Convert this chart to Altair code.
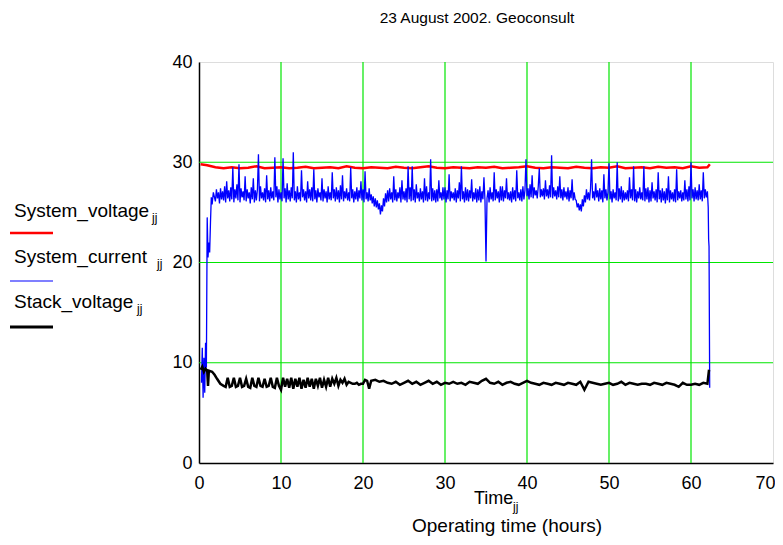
import altair as alt
import pandas as pd

FONT = "Liberation Sans"

# ---------------- data ----------------
# System voltage (red)
volt_time = [0.2, 0.6, 1.0, 1.5, 2.0, 2.5,
             3, 4, 5, 6, 7, 8, 9, 10, 11, 12,
             13, 14, 15, 16, 17, 18, 19, 20, 21, 22,
             23, 24, 25, 26, 27, 28, 29, 30, 31, 32,
             33, 34, 35, 36, 37, 38, 39, 40, 41, 42,
             43, 44, 45, 46, 47, 48, 49, 50, 51, 52,
             53, 54, 55, 56, 57, 58, 59, 60, 61, 62, 62.3]
volt_vals = [29.8, 29.75, 29.7, 29.6, 29.5, 29.45,
             29.4, 29.5, 29.4, 29.45, 29.6, 29.4, 29.45, 29.5, 29.4, 29.45,
             29.55, 29.4, 29.45, 29.5, 29.4, 29.6, 29.45, 29.4, 29.5, 29.45,
             29.4, 29.55, 29.45, 29.4, 29.5, 29.6, 29.45, 29.4, 29.5, 29.45,
             29.4, 29.5, 29.45, 29.55, 29.4, 29.45, 29.5, 29.6, 29.45, 29.4,
             29.5, 29.45, 29.4, 29.55, 29.45, 29.4, 29.5, 29.45, 29.6, 29.4,
             29.45, 29.5, 29.4, 29.55, 29.45, 29.5, 29.4, 29.6, 29.45, 29.5, 29.8]

# System current (blue): start-up, hourly rows of 1/8-hour readings, shut-down
cur_start_time = [0.3, 0.4, 0.5, 0.6, 0.7, 0.8, 0.9, 1.0, 1.1, 1.2, 1.3, 1.4, 1.5, 1.6, 1.75]
cur_start_vals = [8.0, 11.5, 6.5, 10.5, 7.0, 12.0, 9.5, 24.5, 20.5, 22.0, 21.0, 24.0, 26.5, 25.8, 27.0]
cur_hours = list(range(2, 62))
cur_rows = [
    [26.1, 27.3, 26.4, 27.0, 25.9, 27.4, 26.3, 27.1],
    [26.2, 27.6, 26.0, 28.1, 26.4, 27.2, 26.1, 27.5],
    [26.3, 29.5, 26.0, 27.3, 26.4, 27.8, 26.2, 29.8],
    [26.0, 27.4, 26.5, 27.1, 26.2, 28.6, 26.1, 27.3],
    [26.4, 27.0, 25.9, 27.5, 26.3, 28.4, 26.0, 27.2],
    [26.2, 27.3, 30.8, 26.1, 27.6, 26.4, 27.0, 26.2],
    [27.4, 26.0, 28.7, 26.3, 27.2, 26.1, 27.5, 26.4],
    [27.1, 26.2, 30.5, 26.5, 27.6, 26.0, 27.3, 26.3],
    [27.0, 26.1, 30.4, 26.4, 27.4, 26.0, 27.9, 26.3],
    [27.2, 26.1, 27.5, 26.4, 31.0, 26.2, 27.1, 26.0],
    [27.6, 26.3, 27.0, 26.1, 29.2, 26.5, 27.3, 26.2],
    [27.1, 26.0, 28.1, 26.4, 27.3, 26.2, 27.5, 26.1],
    [29.3, 26.3, 27.2, 26.0, 27.4, 26.5, 27.0, 26.2],
    [28.4, 26.1, 27.3, 26.4, 27.1, 26.0, 27.6, 26.3],
    [27.0, 26.2, 29.0, 26.4, 27.3, 26.1, 27.5, 26.3],
    [27.2, 26.0, 27.7, 26.3, 28.7, 26.1, 27.1, 26.4],
    [27.4, 26.2, 27.0, 26.1, 29.5, 26.4, 27.3, 26.0],
    [27.1, 26.3, 27.5, 26.1, 27.2, 26.4, 28.1, 26.2],
    [27.3, 26.0, 29.1, 26.3, 27.0, 26.1, 27.4, 26.2],
    [26.8, 25.9, 26.6, 25.6, 26.4, 25.5, 26.2, 25.3],
    [25.9, 24.8, 25.7, 25.1, 26.4, 25.6, 26.9, 26.0],
    [27.2, 26.1, 27.4, 26.3, 27.0, 26.0, 28.6, 26.2],
    [27.3, 26.1, 27.0, 26.4, 27.5, 26.0, 28.2, 26.3],
    [27.1, 26.2, 27.4, 26.0, 29.6, 26.3, 27.5, 26.1],
    [29.6, 26.2, 27.3, 26.0, 27.8, 26.4, 27.0, 26.1],
    [27.4, 26.3, 27.1, 26.0, 28.4, 26.2, 27.6, 26.1],
    [27.0, 26.3, 30.3, 26.1, 27.4, 26.2, 27.2, 26.0],
    [27.3, 26.1, 28.2, 26.4, 27.0, 26.2, 27.5, 26.3],
    [27.5, 26.0, 27.2, 26.3, 28.8, 26.1, 27.1, 26.4],
    [27.0, 26.2, 27.4, 26.0, 27.2, 26.4, 28.0, 26.1],
    [29.6, 26.3, 27.1, 26.0, 27.5, 26.2, 27.3, 26.1],
    [27.2, 26.4, 28.3, 26.1, 27.0, 26.3, 27.4, 26.0],
    [27.3, 26.2, 27.6, 26.0, 27.1, 26.3, 28.5, 26.2],
    [20.1, 26.4, 27.2, 26.0, 27.5, 26.3, 27.0, 26.1],
    [29.0, 26.2, 27.3, 26.4, 27.1, 26.0, 27.6, 26.2],
    [27.6, 26.1, 27.2, 26.4, 28.4, 26.3, 27.0, 26.2],
    [27.1, 26.0, 27.5, 26.3, 27.2, 26.1, 29.2, 26.4],
    [27.0, 26.2, 27.3, 26.1, 27.6, 26.3, 27.2, 30.3],
    [26.6, 27.4, 26.3, 27.8, 26.5, 28.7, 26.4, 27.5],
    [26.7, 27.2, 26.4, 27.6, 29.4, 26.5, 27.3, 26.6],
    [27.4, 26.3, 28.2, 26.6, 27.3, 26.4, 27.7, 26.5],
    [30.7, 26.4, 27.5, 26.6, 27.2, 26.3, 27.6, 26.5],
    [28.6, 26.4, 27.3, 26.2, 27.5, 26.5, 27.1, 26.3],
    [27.5, 26.1, 27.2, 26.4, 28.3, 26.2, 27.0, 26.3],
    [26.2, 25.5, 25.9, 25.2, 25.8, 25.1, 26.3, 25.6],
    [26.7, 26.0, 27.3, 26.3, 27.0, 26.2, 27.4, 30.3],
    [26.4, 27.1, 26.2, 27.9, 26.5, 27.2, 26.1, 27.4],
    [26.3, 27.2, 26.0, 28.8, 26.4, 27.3, 26.2, 27.0],
    [29.9, 26.3, 27.1, 26.0, 27.3, 26.4, 27.0, 26.2],
    [30.0, 26.1, 27.4, 26.3, 27.6, 26.0, 27.2, 26.2],
    [27.0, 26.3, 27.2, 26.1, 28.5, 26.4, 27.3, 26.2],
    [29.6, 26.1, 27.3, 26.0, 27.1, 26.4, 27.5, 26.3],
    [27.0, 26.2, 29.6, 26.1, 27.4, 26.3, 27.5, 26.0],
    [27.2, 26.1, 28.0, 26.4, 27.1, 26.2, 27.3, 26.0],
    [29.0, 26.3, 27.2, 26.0, 27.4, 26.2, 27.1, 25.9],
    [27.4, 26.2, 28.6, 26.0, 27.2, 26.3, 27.0, 26.1],
    [27.3, 26.0, 29.3, 26.2, 27.1, 26.4, 27.2, 26.1],
    [27.0, 26.2, 28.2, 26.3, 27.3, 26.1, 27.6, 26.2],
    [30.0, 26.4, 27.3, 26.1, 27.5, 26.3, 27.2, 26.2],
    [27.8, 26.3, 27.2, 26.1, 29.0, 26.4, 27.3, 26.5],
]
cur_end_time = [62.0, 62.1, 62.15, 62.2, 62.28]
cur_end_vals = [27.1, 25.5, 22.3, 21.6, 7.5]

# Stack voltage (black)
stack_start_time = [0.2, 0.4, 0.6, 0.8, 1.0, 1.1, 1.2, 1.6, 1.9, 2.2, 2.6]
stack_start_vals = [9.3, 9.6, 9.1, 9.4, 9.2, 7.7, 9.2, 9.1, 8.8, 8.4, 7.9]
stack_q_hours = list(range(3, 21))
stack_quarters = [
    [7.7, 7.6, 8.5, 7.6], [7.7, 8.5, 7.6, 7.7], [8.5, 7.6, 7.7, 8.4],
    [7.6, 7.5, 8.5, 7.7], [7.6, 8.5, 7.7, 7.6], [8.4, 7.6, 7.7, 8.5],
    [7.6, 7.5, 8.5, 7.7], [7.3, 8.5, 7.6, 8.4], [7.5, 8.5, 7.4, 8.4],
    [7.6, 8.5, 7.4, 8.3], [7.5, 8.5, 7.6, 8.4], [7.4, 8.4, 7.7, 8.5],
    [7.5, 8.3, 7.6, 8.5], [7.6, 8.4, 7.9, 8.5], [7.7, 8.3, 8.0, 8.4],
    [7.8, 8.1, 8.0, 7.9], [7.9, 8.0, 7.8, 7.9], [7.9, 8.3, 8.2, 7.4],
]
stack_h_hours = list(range(21, 62))
stack_halves = [
    [8.2, 8.3], [8.1, 8.2], [8.0, 7.9], [8.1, 7.8], [8.0, 8.2], [7.9, 8.1],
    [7.8, 8.0], [8.2, 7.9], [8.1, 7.8], [8.0, 7.9], [8.1, 7.9], [8.0, 7.8],
    [8.1, 8.0], [7.9, 8.2], [8.4, 8.0], [7.9, 8.1], [7.8, 8.0], [8.1, 7.9],
    [7.8, 8.0], [8.2, 8.0], [7.9, 7.8], [8.0, 7.9], [7.8, 8.0], [7.9, 7.8],
    [8.0, 7.9], [7.8, 8.1], [7.3, 8.1], [8.0, 7.9], [7.8, 7.9], [8.0, 7.8],
    [7.9, 8.1], [7.8, 8.0], [7.9, 7.8], [7.9, 7.9], [7.8, 8.0], [7.9, 7.8],
    [8.0, 7.9], [7.8, 7.6], [8.0, 7.8], [7.8, 7.9], [7.8, 8.0],
]
stack_end_time = [62.0, 62.2]
stack_end_vals = [7.9, 9.3]

x_ticks = [0, 10, 20, 30, 40, 50, 60, 70]
y_ticks = [0, 10, 20, 30, 40]
x_grid = [10, 20, 30, 40, 50, 60]
y_grid = [10, 20, 30]

legend_labels = ["System_voltage", "System_current", "Stack_voltage"]
legend_colors = ["#ff0000", "#0000ff", "#000000"]
legend_widths = [2.5, 1.2, 3]
subscript = "jj"
chart_title = "23 August 2002. Geoconsult"
x_title = "Time"
x_title2 = "Operating time (hours)"

# ---------------- tables ----------------
def expand(hours, rows):
    t, v = [], []
    for h, row in zip(hours, rows):
        step = 1.0 / len(row)
        for k, val in enumerate(row):
            t.append(h + k * step)
            v.append(val)
    return t, v

ct, cv = expand(cur_hours, cur_rows)
cur_df = pd.DataFrame({"t": cur_start_time + ct + cur_end_time,
                       "v": cur_start_vals + cv + cur_end_vals})
sq_t, sq_v = expand(stack_q_hours, stack_quarters)
sh_t, sh_v = expand(stack_h_hours, stack_halves)
stack_df = pd.DataFrame({"t": stack_start_time + sq_t + sh_t + stack_end_time,
                         "v": stack_start_vals + sq_v + sh_v + stack_end_vals})
volt_df = pd.DataFrame({"t": volt_time, "v": volt_vals})

# ---------------- encodings ----------------
last_x = x_ticks[-1]
x_enc = alt.X("t:Q", scale=alt.Scale(domain=[0, 70], nice=False, zero=False),
              axis=alt.Axis(values=x_ticks, grid=False, title=None, tickSize=0,
                            labelFontSize=18, labelFont=FONT, labelColor="#000",
                            labelPadding=11, domainColor="#000", domainWidth=1.5,
                            labelFlush=False,
                            labelAlign={"condition": {"test": f"datum.value === {last_x}", "value": "right"},
                                        "value": "center"},
                            labelOffset={"condition": {"test": f"datum.value === {last_x}", "value": 2},
                                         "value": 0}))
y_enc = alt.Y("v:Q", scale=alt.Scale(domain=[0, 40], nice=False, zero=False),
              axis=alt.Axis(values=y_ticks, grid=False, title=None, tickSize=0,
                            labelFontSize=18, labelFont=FONT, labelColor="#000",
                            labelPadding=7, domainColor="#000", domainWidth=1.5,
                            labelFlush=False))

GREEN = "#00e600"
xgrid = alt.Chart(pd.DataFrame({"t": x_grid})).mark_rule(color=GREEN, strokeWidth=1.2).encode(x=x_enc)
ygrid = alt.Chart(pd.DataFrame({"v": y_grid})).mark_rule(color=GREEN, strokeWidth=1.2).encode(y=y_enc)

volt_line = alt.Chart(volt_df).mark_line(color="#ff0000", strokeWidth=2.5).encode(x=x_enc, y=y_enc)
cur_line = alt.Chart(cur_df).mark_line(color="#0000ff", strokeWidth=1.3).encode(x=x_enc, y=y_enc)
stack_line = alt.Chart(stack_df).mark_line(color="#000000", strokeWidth=2.5).encode(x=x_enc, y=y_enc)

layers = [xgrid, ygrid, volt_line, cur_line, stack_line]

# legend (label above a line swatch, with subscript)
label_y = [155, 201, 246]
sub_x = [-47, -42, -62]
line_y = [171, 219, 265]
for lab, col, w, ly, sx, ry in zip(legend_labels, legend_colors, legend_widths, label_y, sub_x, line_y):
    df = pd.DataFrame({"label": [lab], "sub": [subscript]})
    layers.append(alt.Chart(df).mark_text(align="left", baseline="alphabetic", font=FONT,
                                          fontSize=19, color="#000").encode(
        x=alt.value(-185), y=alt.value(ly), text="label:N"))
    layers.append(alt.Chart(df).mark_text(align="left", baseline="alphabetic", font=FONT,
                                          fontSize=12, color="#000").encode(
        x=alt.value(sx), y=alt.value(ly + 5), text="sub:N"))
    layers.append(alt.Chart(df).mark_rule(color=col, strokeWidth=w).encode(
        x=alt.value(-189), x2=alt.value(-146), y=alt.value(ry)))

tdf = pd.DataFrame({"title": [chart_title], "xt": [x_title], "xt2": [x_title2], "sub": [subscript]})
layers.append(alt.Chart(tdf).mark_text(align="center", baseline="alphabetic", font=FONT,
                                       fontSize=15.5, color="#000").encode(
    x=alt.value(278), y=alt.value(-39), text="title:N"))
layers.append(alt.Chart(tdf).mark_text(align="left", baseline="alphabetic", font=FONT,
                                       fontSize=18, color="#000").encode(
    x=alt.value(275), y=alt.value(442), text="xt:N"))
layers.append(alt.Chart(tdf).mark_text(align="left", baseline="alphabetic", font=FONT,
                                       fontSize=12, color="#000").encode(
    x=alt.value(314), y=alt.value(449), text="sub:N"))
layers.append(alt.Chart(tdf).mark_text(align="center", baseline="alphabetic", font=FONT,
                                       fontSize=19, color="#000").encode(
    x=alt.value(308), y=alt.value(470), text="xt2:N"))

chart = alt.layer(*layers).properties(
    width=574, height=401,
    autosize="none",
    padding={"left": 191, "top": 54, "right": 2, "bottom": 74},
).configure_view(stroke="#333333", strokeWidth=1.5).configure(background="white")

chart.save("out.html", embed_options={"renderer": "svg", "actions": False})
